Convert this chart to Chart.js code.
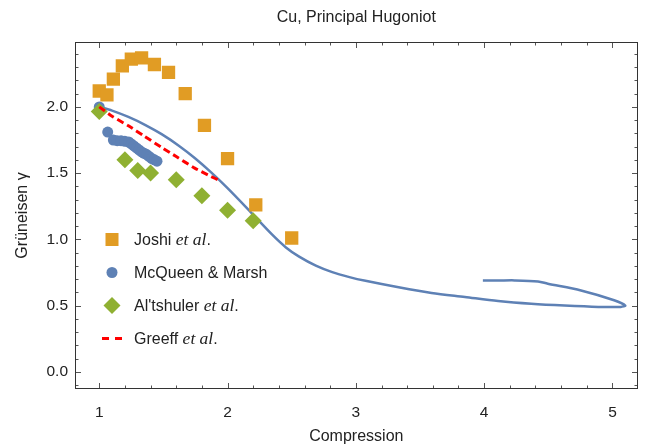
<!DOCTYPE html>
<html>
<head>
<meta charset="utf-8">
<script src="https://cdn.jsdelivr.net/npm/chart.js@4.4.1/dist/chart.umd.min.js"></script>
<style>
  body { margin: 0; background: #fff; }
  #wrap { width: 647px; height: 446px; }
</style>
</head>
<body>
<div id="wrap"><canvas id="myChart"></canvas></div>
<script>
// Joshi et al. (squares)
var joshiX = [1.0, 1.06, 1.11, 1.18, 1.25, 1.33, 1.43, 1.54, 1.67, 1.82, 2.0, 2.22, 2.5];
var joshiY = [2.12, 2.09, 2.21, 2.31, 2.36, 2.37, 2.32, 2.26, 2.10, 1.86, 1.61, 1.26, 1.01];

// McQueen & Marsh (circles)
var mcqX = [1.0, 1.066, 1.11, 1.14, 1.17, 1.20, 1.23, 1.25, 1.27, 1.29, 1.31, 1.33, 1.35, 1.37, 1.39, 1.41, 1.43, 1.45];
var mcqY = [2.0, 1.81, 1.75, 1.745, 1.745, 1.74, 1.735, 1.72, 1.705, 1.69, 1.675, 1.66, 1.65, 1.64, 1.625, 1.61, 1.60, 1.59];

// Al'tshuler et al. (diamonds)
var altX = [1.0, 1.2, 1.3, 1.4, 1.6, 1.8, 2.0, 2.2];
var altY = [1.965, 1.60, 1.52, 1.50, 1.45, 1.33, 1.22, 1.14];

// Greeff et al. (dashed)
var greeffX = [1.0, 1.1, 1.227, 1.35, 1.486, 1.6, 1.744, 1.85, 1.95];
var greeffY = [2.0, 1.93, 1.857, 1.78, 1.694, 1.625, 1.538, 1.485, 1.438];

// model curve (solid blue, loops back at high compression)
var curveX = [1.0, 1.1, 1.227, 1.36, 1.486, 1.62, 1.744, 1.87, 2.0, 2.18, 2.35, 2.455, 2.558, 2.688, 2.816, 2.95, 3.075,
              3.333, 3.59, 3.85, 4.109, 4.367, 4.626, 4.89, 5.065, 5.10, 5.013, 4.755, 4.496, 4.42, 4.238, 4.109, 3.99];
var curveY = [2.0, 1.972, 1.924, 1.863, 1.794, 1.707, 1.614, 1.507, 1.386, 1.206, 1.033, 0.939, 0.869, 0.801, 0.752, 0.715, 0.687,
              0.638, 0.595, 0.565, 0.535, 0.514, 0.50, 0.49, 0.49, 0.50, 0.54, 0.614, 0.665, 0.682, 0.69, 0.689, 0.689];

var xTicks = [1, 2, 3, 4, 5];
var yTicks = [0.0, 0.5, 1.0, 1.5, 2.0];
var xMinorStep = 0.2;
var yMinorStep = 0.1;

function pts(xs, ys) {
    return xs.map(function(x, i) { return {x: x, y: ys[i]}; });
}

var blue = '#5E81B5', orange = '#E19C24', green = '#8FB032', red = '#FF0000';
var fontFam = "'Liberation Sans', Arial, sans-serif";

// frame with inward ticks on all four sides
var frameTicks = {
    id: 'frameTicks',
    afterDraw: function(chart) {
        var a = chart.chartArea, c = chart.ctx;
        var xs = chart.scales.x, ys = chart.scales.y;
        var L = Math.round(a.left), R = Math.round(a.right), T = Math.round(a.top), B = Math.round(a.bottom);
        c.save();
        c.setLineDash([]);
        c.fillStyle = '#555';
        var i, v, p, len;
        var n0 = Math.ceil(xs.min / xMinorStep), n1 = Math.floor(xs.max / xMinorStep);
        for (i = n0; i <= n1; i++) {
            v = i * xMinorStep;
            p = Math.round(xs.getPixelForValue(v));
            if (p <= L + 1 || p >= R - 1) continue;
            len = Math.abs(v - Math.round(v)) < 1e-6 ? 6 : 3.5;
            c.fillRect(p, B - len, 1, len);
            c.fillRect(p, T, 1, len);
        }
        n0 = Math.ceil(ys.min / yMinorStep); n1 = Math.floor(ys.max / yMinorStep);
        for (i = n0; i <= n1; i++) {
            v = i * yMinorStep;
            p = Math.round(ys.getPixelForValue(v));
            if (p <= T + 1 || p >= B - 1) continue;
            len = i % 5 === 0 ? 6 : 3.5;
            c.fillRect(L, p, len, 1);
            c.fillRect(R - len, p, len, 1);
        }
        c.strokeStyle = '#333';
        c.lineWidth = 1;
        c.strokeRect(L + 0.5, T + 0.5, R - L - 1, B - T - 1);
        c.restore();
    }
};

// legend inside the plot, with italic "et al"
var insideLegend = {
    id: 'insideLegend',
    afterDraw: function(chart) {
        var a = chart.chartArea, c = chart.ctx;
        var mx = a.left + 37, tx = a.left + 59, y0 = a.top + 197.5, dy = 33;
        var items = [
            {mark: 'square', parts: [['Joshi ', 0], ['et al', 1], ['.', 0]]},
            {mark: 'circle', parts: [['McQueen & Marsh', 0]]},
            {mark: 'diamond', parts: [["Al'tshuler ", 0], ['et al', 1], ['.', 0]]},
            {mark: 'dash', parts: [['Greeff ', 0], ['et al', 1], ['.', 0]]}
        ];
        c.save();
        items.forEach(function(it, i) {
            var y = y0 + i * dy;
            c.beginPath();
            if (it.mark === 'square') {
                c.fillStyle = orange;
                c.fillRect(mx - 6.5, y - 6.5, 13, 13);
            } else if (it.mark === 'circle') {
                c.fillStyle = blue;
                c.arc(mx, y, 5.5, 0, Math.PI * 2);
                c.fill();
            } else if (it.mark === 'diamond') {
                c.fillStyle = green;
                c.moveTo(mx - 8.5, y); c.lineTo(mx, y - 8.5);
                c.lineTo(mx + 8.5, y); c.lineTo(mx, y + 8.5);
                c.closePath();
                c.fill();
            } else {
                c.strokeStyle = red;
                c.lineWidth = 3;
                c.moveTo(mx - 10, y); c.lineTo(mx - 3, y);
                c.moveTo(mx + 3, y); c.lineTo(mx + 10, y);
                c.stroke();
            }
            var x = tx;
            c.fillStyle = '#222';
            c.textBaseline = 'middle';
            it.parts.forEach(function(pt) {
                c.font = pt[1] ? "italic 17.5px 'Liberation Serif', serif" : '16px ' + fontFam;
                c.fillText(pt[0], x, y + 1);
                x += c.measureText(pt[0]).width;
            });
        });
        c.restore();
    }
};

var ctx = document.getElementById('myChart').getContext('2d');
var chart = new Chart(ctx, {
    type: 'scatter',
    data: {
        datasets: [{
            label: 'Greeff et al.',
            data: pts(greeffX, greeffY),
            showLine: true,
            borderColor: red,
            borderWidth: 3,
            borderDash: [7, 4],
            pointRadius: 0,
            tension: 0.2,
            fill: false
        }, {
            label: "Al'tshuler et al.",
            data: pts(altX, altY),
            pointStyle: 'rectRot',
            pointRadius: 8.5,
            pointHoverRadius: 8.5,
            backgroundColor: green,
            borderWidth: 0
        }, {
            label: 'McQueen & Marsh',
            data: pts(mcqX, mcqY),
            pointStyle: 'circle',
            pointRadius: 5.5,
            pointHoverRadius: 5.5,
            backgroundColor: blue,
            borderWidth: 0
        }, {
            label: 'Joshi et al.',
            data: pts(joshiX, joshiY),
            pointStyle: 'rect',
            pointRadius: 9.4,
            pointHoverRadius: 9.4,
            backgroundColor: orange,
            borderWidth: 0
        }, {
            label: 'model',
            data: pts(curveX, curveY),
            showLine: true,
            borderColor: blue,
            borderWidth: 2.5,
            pointRadius: 0,
            tension: 0.3,
            fill: false
        }]
    },
    options: {
        responsive: true,
        maintainAspectRatio: false,
        animation: false,
        layout: { padding: { left: 0, right: 8, top: 0, bottom: 0 } },
        plugins: {
            legend: { display: false },
            tooltip: { enabled: false },
            title: {
                display: true,
                text: 'Cu, Principal Hugoniot',
                fullSize: false,
                color: '#222',
                font: { family: fontFam, size: 16, weight: 'normal' },
                padding: { top: 8, bottom: 14.8 }
            }
        },
        scales: {
            x: {
                type: 'linear',
                min: 0.811,
                max: 5.196,
                afterBuildTicks: function(s) { s.ticks = xTicks.map(function(v) { return {value: v}; }); },
                afterFit: function(s) { s.height = 57; },
                grid: { display: false },
                border: { display: false },
                ticks: {
                    color: '#222',
                    padding: 6,
                    maxRotation: 0,
                    font: { family: fontFam, size: 15.5 },
                    callback: function(v) { return String(v); }
                },
                title: {
                    display: true,
                    text: 'Compression',
                    color: '#222',
                    font: { family: fontFam, size: 16 },
                    padding: { top: 0, bottom: 0 }
                }
            },
            y: {
                type: 'linear',
                min: -0.13,
                max: 2.49,
                afterBuildTicks: function(s) { s.ticks = yTicks.map(function(v) { return {value: v}; }); },
                afterFit: function(s) { s.width = 75; },
                grid: { display: false },
                border: { display: false },
                ticks: {
                    color: '#222',
                    padding: -1,
                    font: { family: fontFam, size: 15.5 },
                    callback: function(v) { return v.toFixed(1); }
                },
                title: {
                    display: true,
                    text: 'Grüneisen γ',
                    color: '#222',
                    font: { family: fontFam, size: 16 },
                    padding: { top: 13, bottom: 0 }
                }
            }
        }
    },
    plugins: [frameTicks, insideLegend]
});
</script>
</body>
</html>
